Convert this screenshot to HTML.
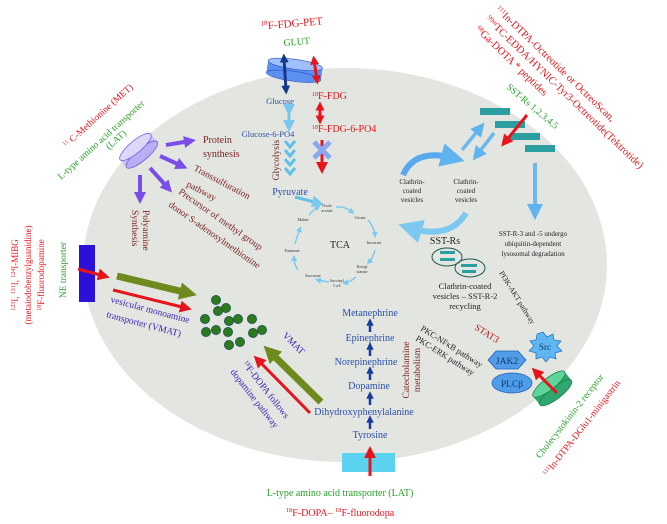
<!DOCTYPE html>
<html><head><meta charset="utf-8"><style>
body{margin:0;background:#fff}
svg{display:block;font-family:"Liberation Serif",serif}
</style></head><body>
<svg width="667" height="524" viewBox="0 0 667 524" xmlns="http://www.w3.org/2000/svg">
<defs>
<marker id="mr" markerWidth="4" markerHeight="4" refX="2" refY="2" orient="auto" markerUnits="strokeWidth"><path d="M0,0L4,2L0,4z" fill="#e8141c"/></marker>
<marker id="mp" markerWidth="3" markerHeight="3" refX="1.5" refY="1.5" orient="auto" markerUnits="strokeWidth"><path d="M0,0L3,1.5L0,3z" fill="#7a4de8"/></marker>
<marker id="mo" markerWidth="2.5" markerHeight="2.5" refX="1.2" refY="1.25" orient="auto" markerUnits="strokeWidth"><path d="M0,0L2.5,1.25L0,2.5z" fill="#6e8a1c"/></marker>
<marker id="mb" markerWidth="4" markerHeight="4" refX="2" refY="2" orient="auto" markerUnits="strokeWidth"><path d="M0,0L4,2L0,4z" fill="#5fb4f0"/></marker>
<marker id="md" markerWidth="3" markerHeight="3" refX="1.5" refY="1.5" orient="auto" markerUnits="strokeWidth"><path d="M0,0L3,1.5L0,3z" fill="#1b3aa0"/></marker>
<marker id="mds" markerWidth="3" markerHeight="3" refX="1.5" refY="1.5" orient="auto-start-reverse" markerUnits="strokeWidth"><path d="M0,0L3,1.5L0,3z" fill="#123a8a"/></marker>
<marker id="mrs" markerWidth="3" markerHeight="3" refX="1.5" refY="1.5" orient="auto-start-reverse" markerUnits="strokeWidth"><path d="M0,0L3,1.5L0,3z" fill="#e8141c"/></marker>
<marker id="mt" markerWidth="4" markerHeight="4" refX="2" refY="2" orient="auto" markerUnits="strokeWidth"><path d="M0,0L4,2L0,4z" fill="#7cc8f0"/></marker>
</defs>
<ellipse cx="345" cy="265" rx="262" ry="197" fill="#e3e6e0"/>

<!-- GLUT -->
<text x="292" y="27" font-size="11" fill="#e8141c" transform="rotate(-5 292 27)" text-anchor="middle"><tspan font-size="7" dy="-4">18</tspan><tspan dy="4">F-FDG-PET</tspan></text>
<text x="297" y="45" font-size="10" fill="#2aa02a" text-anchor="middle" transform="rotate(-5 297 45)">GLUT</text>
<g transform="rotate(8 292 70)">
<rect x="267" y="64" width="55" height="12" fill="#5b8ff0"/>
<ellipse cx="294.5" cy="76" rx="27.5" ry="5" fill="#5b8ff0" stroke="#2a4fc0" stroke-width="0.6"/>
<ellipse cx="294.5" cy="64" rx="27.5" ry="5" fill="#9fc0f8" stroke="#2a4fc0" stroke-width="0.6"/>
</g>
<line x1="284" y1="58" x2="286" y2="90" stroke="#123a8a" stroke-width="3" marker-start="url(#mds)" marker-end="url(#mds)"/>
<line x1="314" y1="60" x2="317" y2="80" stroke="#e8141c" stroke-width="3" marker-start="url(#mrs)" marker-end="url(#mrs)"/>
<text x="312" y="99" font-size="10" fill="#e8141c"><tspan font-size="6" dy="-3">18</tspan><tspan dy="3">F-FDG</tspan></text>
<line x1="320" y1="106" x2="320" y2="120" stroke="#e8141c" stroke-width="3" marker-start="url(#mrs)" marker-end="url(#mrs)"/>
<text x="312" y="132" font-size="10" fill="#e8141c"><tspan font-size="6" dy="-3">18</tspan><tspan dy="3">F-FDG-6-PO4</tspan></text>
<line x1="322" y1="140" x2="322" y2="168" stroke="#e8141c" stroke-width="3" marker-end="url(#mr)"/>
<path d="M314,142L330,158M330,142L314,158" stroke="#8aa8f0" stroke-width="5"/>
<text x="280" y="104" font-size="8.5" fill="#2a4fb0" text-anchor="middle">Glucose</text>
<line x1="289" y1="110" x2="289" y2="126" stroke="#70c8ec" stroke-width="3" marker-start="url(#mt)" marker-end="url(#mt)"/>
<text x="268" y="137" font-size="8.5" fill="#2a4fb0" text-anchor="middle">Glucose-6-PO4</text>
<path d="M285,141l5,6l5,-6M285,150l5,6l5,-6M285,159l5,6l5,-6M285,168l5,6l5,-6" stroke="#5fc0e8" stroke-width="3" fill="none"/>
<text x="279" y="160" font-size="9.5" fill="#6b2a2a" transform="rotate(-90 279 160)" text-anchor="middle">Glycolysis</text>
<text x="290" y="195" font-size="10" fill="#2a4fb0" text-anchor="middle">Pyruvate</text>
<line x1="295" y1="197" x2="318" y2="203" stroke="#5fc0e8" stroke-width="3" marker-end="url(#mt)"/>

<!-- TCA -->
<g font-size="4" fill="#333" text-anchor="middle">
<text x="327" y="207">Oxalo</text><text x="327" y="212">acetate</text>
<text x="360" y="219">Citrate</text>
<text x="374" y="244">Isocitrate</text>
<text x="362" y="268">Ketogl</text><text x="362" y="273">utarate</text>
<text x="337" y="282">Succinyl</text><text x="337" y="287">CoA</text>
<text x="313" y="277">Succinate</text>
<text x="292" y="252">Fumarate</text>
<text x="303" y="221">Malate</text>
</g>
<text x="340" y="248" font-size="10" fill="#222" text-anchor="middle">TCA</text>
<g stroke="#7cc8f0" stroke-width="1.5" fill="none" marker-end="url(#mt)">
<path d="M336,207Q345,206 352,212"/><path d="M368,220Q374,227 375,235"/>
<path d="M375,250Q373,258 369,262"/><path d="M356,277Q350,282 345,283"/>
<path d="M329,282Q322,281 318,280"/><path d="M298,270Q294,264 294,258"/>
<path d="M295,244Q297,236 300,229"/><path d="M309,215Q313,210 318,207"/>
</g>

<!-- LAT cylinder and methionine -->
<text x="100" y="118" font-size="9.5" fill="#e8141c" transform="rotate(-42 100 118)" text-anchor="middle"><tspan font-size="6" dy="-3">11</tspan><tspan dy="3"> C-Methionine (MET)</tspan></text>
<text x="103" y="142" font-size="9.5" fill="#2aa02a" transform="rotate(-42 103 142)" text-anchor="middle">L-type amino acid transporter</text>
<text x="118" y="142" font-size="9.5" fill="#2aa02a" transform="rotate(-42 118 142)" text-anchor="middle">(LAT)</text>
<g transform="rotate(-40 138 150)">
<rect x="118" y="146" width="40" height="10" fill="#c9c2f5"/>
<ellipse cx="138" cy="156" rx="20" ry="6" fill="#b8aef2" stroke="#6a4de0" stroke-width="0.7"/>
<ellipse cx="138" cy="146" rx="20" ry="6" fill="#ddd8fa" stroke="#6a4de0" stroke-width="0.7"/>
</g>
<g stroke="#7a4de8" stroke-width="4" marker-end="url(#mp)">
<line x1="166" y1="145" x2="190" y2="141"/>
<line x1="160" y1="156" x2="182" y2="166"/>
<line x1="150" y1="168" x2="168" y2="188"/>
<line x1="140" y1="175" x2="140" y2="198"/>
</g>
<text x="203" y="143" font-size="10" fill="#7a1f1f">Protein</text>
<text x="203" y="157" font-size="10" fill="#7a1f1f">synthesis</text>
<text x="193" y="170" font-size="9.5" fill="#7a1f1f" transform="rotate(28 193 170)">Transsulfuration</text>
<text x="186" y="186" font-size="9.5" fill="#7a1f1f" transform="rotate(28 186 186)">pathway</text>
<text x="178" y="193" font-size="9.5" fill="#7a1f1f" transform="rotate(35 178 193)">Precursor of methyl group</text>
<text x="168" y="206" font-size="9.5" fill="#7a1f1f" transform="rotate(35 168 206)">donor S-adenosylmethionine</text>
<text x="143" y="210" font-size="9.5" fill="#7a1f1f" transform="rotate(90 143 210)">Polyamine</text>
<text x="132" y="210" font-size="9.5" fill="#7a1f1f" transform="rotate(90 132 210)">Synthesis</text>

<!-- NE transporter -->
<rect x="79" y="245" width="16" height="57" fill="#2a10d8"/>
<text x="66" y="270" font-size="9.5" fill="#2aa02a" transform="rotate(-90 66 270)" text-anchor="middle">NE transporter</text>
<g font-size="9" fill="#e8141c" text-anchor="middle">
<text x="18" y="275" transform="rotate(-90 18 275)"><tspan font-size="6" dy="-3">123</tspan><tspan dy="3">I, </tspan><tspan font-size="6" dy="-3">131</tspan><tspan dy="3">I, </tspan><tspan font-size="6" dy="-3">124</tspan><tspan dy="3">I-MIBG</tspan></text>
<text x="31" y="275" transform="rotate(-90 31 275)">(metaiodobenzylguanidine)</text>
<text x="44" y="275" transform="rotate(-90 44 275)"><tspan font-size="6" dy="-3">18</tspan><tspan dy="3">F-fluorodopamine</tspan></text>
</g>
<line x1="78" y1="269" x2="104" y2="276" stroke="#e8141c" stroke-width="3" marker-end="url(#mr)"/>
<line x1="117" y1="276" x2="188" y2="293" stroke="#6e8a1c" stroke-width="7" marker-end="url(#mo)"/>
<line x1="113" y1="290" x2="186" y2="308" stroke="#e8141c" stroke-width="3" marker-end="url(#mr)"/>
<text x="110" y="302" font-size="9.5" fill="#3b22b8" transform="rotate(15 110 302)">vesicular monoamine</text>
<text x="106" y="317" font-size="9.5" fill="#3b22b8" transform="rotate(15 106 317)">transporter (VMAT)</text>
<g fill="#2f7a1a" stroke="#1f5a5a" stroke-width="1">
<circle cx="216" cy="300" r="4.5"/><circle cx="226" cy="308" r="4.5"/><circle cx="218" cy="311" r="4.5"/>
<circle cx="205" cy="319" r="4.5"/><circle cx="229" cy="321" r="4.5"/><circle cx="238" cy="319" r="4.5"/>
<circle cx="252" cy="319" r="4.5"/><circle cx="206" cy="332" r="4.5"/><circle cx="216" cy="330" r="4.5"/>
<circle cx="228" cy="332" r="4.5"/><circle cx="253" cy="333" r="4.5"/><circle cx="262" cy="330" r="4.5"/>
<circle cx="229" cy="345" r="4.5"/><circle cx="240" cy="342" r="4.5"/>
</g>
<text x="282" y="336" font-size="9.5" fill="#3b22b8" transform="rotate(45 282 336)">VMAT</text>
<line x1="321" y1="402" x2="270" y2="352" stroke="#6e8a1c" stroke-width="7" marker-end="url(#mo)"/>
<line x1="310" y1="413" x2="258" y2="360" stroke="#e8141c" stroke-width="3" marker-end="url(#mr)"/>
<text x="242" y="364" font-size="9.5" fill="#3b22b8" transform="rotate(52 242 364)"><tspan font-size="6" dy="-3">18</tspan><tspan dy="3">F-DOPA follows</tspan></text>
<text x="230" y="372" font-size="9.5" fill="#3b22b8" transform="rotate(52 230 372)">dopamine pathway</text>

<!-- Catecholamines -->
<g font-size="10" fill="#2a4fb0" text-anchor="middle">
<text x="370" y="316">Metanephrine</text>
<text x="370" y="341">Epinephrine</text>
<text x="366" y="365">Norepinephrine</text>
<text x="369" y="389">Dopamine</text>
<text x="364" y="415">Dihydroxyphenylalanine</text>
<text x="370" y="438">Tyrosine</text>
</g>
<g stroke="#1b3aa0" stroke-width="2.5" marker-end="url(#md)">
<line x1="370" y1="332" x2="370" y2="322"/><line x1="370" y1="356" x2="370" y2="346"/>
<line x1="370" y1="380" x2="370" y2="370"/><line x1="370" y1="405" x2="370" y2="395"/>
<line x1="370" y1="429" x2="370" y2="419"/>
</g>
<rect x="342" y="453" width="53" height="19" fill="#5ad2f0"/>
<line x1="370" y1="476" x2="370" y2="452" stroke="#e8141c" stroke-width="3" marker-end="url(#mr)"/>
<text x="340" y="496" font-size="10" fill="#2aa02a" text-anchor="middle">L-type amino acid transporter (LAT)</text>
<text x="340" y="516" font-size="10" fill="#e8141c" text-anchor="middle"><tspan font-size="6.5" dy="-4">18</tspan><tspan dy="4">F-DOPA– </tspan><tspan font-size="6.5" dy="-4">18</tspan><tspan dy="4">F-fluorodopa</tspan></text>
<text x="409" y="370" font-size="9.5" fill="#7a1f1f" transform="rotate(-90 409 370)" text-anchor="middle">Catecholamine</text>
<text x="420" y="370" font-size="9.5" fill="#7a1f1f" transform="rotate(-90 420 370)" text-anchor="middle">metabolism</text>
<text x="420" y="330" font-size="8.5" fill="#222" transform="rotate(32 420 330)">PKC-NFκB pathway</text>
<text x="415" y="340" font-size="8.5" fill="#222" transform="rotate(32 415 340)">PKC-ERK pathway</text>
<text x="474" y="329" font-size="9.5" fill="#b01818" transform="rotate(32 474 329)">STAT3</text>
<text x="499" y="273" font-size="7.5" fill="#222" transform="rotate(58 499 273)">PI3K-AKT pathway</text>

<polygon points="488,360 496,351 518,351 526,360 518,369 496,369" fill="#4f9de8" stroke="#1f5fb8" stroke-width="0.8"/>
<text x="507" y="364" font-size="9.5" fill="#123a6a" text-anchor="middle">JAK2</text>
<ellipse cx="512" cy="383" rx="20" ry="10" fill="#4f9de8" stroke="#1f5fb8" stroke-width="0.8"/>
<text x="512" y="387" font-size="9.5" fill="#123a6a" text-anchor="middle">PLCβ</text>
<polygon points="543,332 547,337 553,334 554,340 561,341 557,346 562,351 555,353 556,359 550,357 546,362 542,357 536,359 536,353 529,351 534,346 530,341 536,340 537,334" fill="#5fb6f0" stroke="#1f6fc0" stroke-width="0.7"/>
<text x="545" y="350" font-size="9" fill="#123a6a" text-anchor="middle">Src</text>
<g transform="rotate(-38 552 388)">
<rect x="532" y="383" width="40" height="11" fill="#2ea870"/>
<ellipse cx="552" cy="394" rx="20" ry="6" fill="#2ea870" stroke="#157a40" stroke-width="0.7"/>
<ellipse cx="552" cy="383" rx="20" ry="6" fill="#5fd49a" stroke="#157a40" stroke-width="0.7"/>
</g>
<line x1="557" y1="393" x2="536" y2="372" stroke="#e8141c" stroke-width="3" marker-end="url(#mr)"/>
<text x="572" y="418" font-size="9.5" fill="#2aa02a" transform="rotate(-52 572 418)" text-anchor="middle">Cholecystokinin-2 receptor</text>
<text x="584" y="430" font-size="9.5" fill="#e8141c" transform="rotate(-52 584 430)" text-anchor="middle"><tspan font-size="6" dy="-3">111</tspan><tspan dy="3">In-DTPA-DGlu1-minigastrin</tspan></text>

<!-- SST -->
<g font-size="10.5" fill="#e8141c">
<text x="495" y="10" transform="rotate(44 495 10)"><tspan font-size="6.5" dy="-3">111</tspan><tspan dy="3">In-DTPA-Octreotide or OctreoScan,</tspan></text>
<text x="485" y="20" transform="rotate(44 485 20)"><tspan font-size="6.5" dy="-3">99m</tspan><tspan dy="3">TC-EDDA/HYNIC-Tyr3-Octreotide(Tektrotide)</tspan></text>
<text x="475" y="30" transform="rotate(44 475 30)"><tspan font-size="6.5" dy="-3">68</tspan><tspan dy="3">Ga-DOTA * peptides</tspan></text>
</g>
<text x="506" y="88" font-size="9.5" fill="#2aa02a" transform="rotate(40 506 88)">SST-Rs 1,2,3,4,5</text>
<g fill="#2a9ea0">
<rect x="480" y="108" width="30" height="7"/><rect x="495" y="121" width="30" height="7"/>
<rect x="510" y="133" width="30" height="7"/><rect x="525" y="145" width="30" height="7"/>
</g>
<line x1="527" y1="115" x2="505" y2="142" stroke="#e8141c" stroke-width="3" marker-end="url(#mr)"/>
<line x1="462" y1="150" x2="480" y2="128" stroke="#6ab8ee" stroke-width="3.5" marker-end="url(#mb)"/>
<line x1="494" y1="133" x2="477" y2="155" stroke="#6ab8ee" stroke-width="3.5" marker-end="url(#mb)"/>
<path d="M403,175Q415,148 453,158" stroke="#5aa8ee" stroke-width="6" fill="none" marker-end="url(#mb)"/>
<path d="M466,213Q450,240 410,228" stroke="#7cc8f0" stroke-width="6" fill="none" marker-end="url(#mt)"/>
<g font-size="7" fill="#222" text-anchor="middle">
<text x="412" y="184">Clathrin-</text><text x="412" y="193">coated</text><text x="412" y="202">vesicles</text>
<text x="466" y="184">Clathrin-</text><text x="466" y="193">coated</text><text x="466" y="202">vesicles</text>
</g>
<line x1="535" y1="163" x2="535" y2="212" stroke="#6ab8ee" stroke-width="4" marker-end="url(#mb)"/>
<g font-size="7" fill="#222" text-anchor="middle">
<text x="533" y="236">SST-R-3 and -5 undergo</text><text x="533" y="246">ubiquitin-dependent</text><text x="533" y="256">lysosomal degradation</text>
</g>
<text x="445" y="244" font-size="10" fill="#222" text-anchor="middle">SST-Rs</text>
<ellipse cx="447" cy="257" rx="15" ry="9" fill="none" stroke="#1f5a50" stroke-width="1"/>
<ellipse cx="470" cy="268" rx="15" ry="9" fill="none" stroke="#1f5a50" stroke-width="1"/>
<rect x="440" y="251" width="15" height="3" fill="#2a9ea0"/><rect x="440" y="258" width="15" height="3" fill="#2a9ea0"/>
<rect x="461" y="264" width="16" height="3" fill="#2a9ea0"/><rect x="462" y="270" width="14" height="3" fill="#2a9ea0"/>
<g font-size="8.5" fill="#222" text-anchor="middle">
<text x="465" y="289">Clathrin-coated</text><text x="465" y="299">vesicles – SST-R-2</text><text x="465" y="309">recycling</text>
</g>
</svg>
</body></html>
